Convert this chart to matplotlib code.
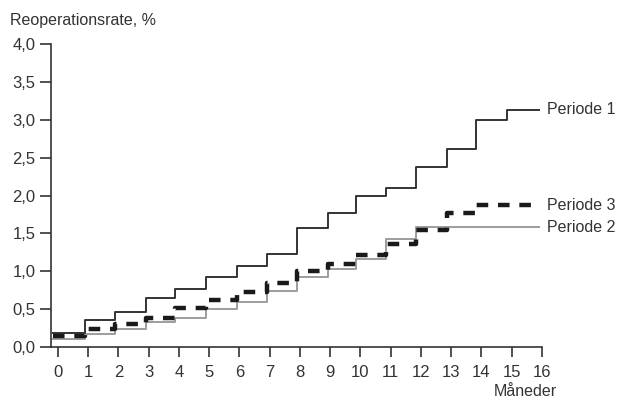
import matplotlib
matplotlib.use("Agg")
import matplotlib.pyplot as plt

plt.rcParams['font.family'] = ['Liberation Sans', 'DejaVu Sans']

# step edges (months) and rate (%) after each edge
steps_x = [-0.17, 0.9, 1.9, 2.9, 3.88, 4.9, 5.92, 6.9, 7.9, 8.92,
           9.85, 10.85, 11.85, 12.85, 13.82, 14.83, 15.9]
periode1 = [0.18, 0.35, 0.46, 0.65, 0.77, 0.92, 1.07, 1.23, 1.57, 1.77,
            2.0, 2.1, 2.38, 2.62, 3.0, 3.13, 3.13]
periode2 = [0.105, 0.175, 0.24, 0.33, 0.38, 0.5, 0.59, 0.74, 0.92, 1.03,
            1.16, 1.42, 1.58, 1.58, 1.58, 1.58, 1.58]
periode3 = [0.145, 0.24, 0.3, 0.385, 0.52, 0.62, 0.73, 0.84, 1.0, 1.09,
            1.21, 1.36, 1.54, 1.77, 1.87, 1.87, 1.87]
labels = ['Periode 1', 'Periode 3', 'Periode 2']
label_y = [3.13, 1.87, 1.58]

yticks = [0, 0.5, 1.0, 1.5, 2.0, 2.5, 3.0, 3.5, 4.0]
ytick_labels = ['0,0', '0,5', '1,0', '1,5', '2,0', '2,5', '3,0', '3,5', '4,0']
xticks = list(range(0, 17))

txt = '#333333'
fig = plt.figure(figsize=(6.18, 4.0), dpi=100)
ax = fig.add_axes([51 / 618, 1 - 347 / 400, 491 / 618, 303 / 400])

ax.step(steps_x, periode2, where='post', color='#9a9ea3', lw=1.4)
ax.step(steps_x, periode1, where='post', color='#333333', lw=1.4)
ax.step(steps_x, periode3, where='post', color='#1a1a1a', lw=3.2,
        dashes=(2.6, 2.2))

ax.set_xlim(-0.23, 16)
ax.set_ylim(0, 4)
ax.set_xticks(xticks)
ax.set_xticklabels([str(t) for t in xticks])
ax.set_yticks(yticks)
ax.set_yticklabels(ytick_labels)

for s in ['top', 'right']:
    ax.spines[s].set_visible(False)
for s in ['left', 'bottom']:
    ax.spines[s].set_color('#333333')
    ax.spines[s].set_linewidth(1.2)

ax.tick_params(axis='x', direction='out', length=7.5, width=1.2,
               color='#333333', pad=5.5, labelsize=12, labelcolor=txt)
ax.tick_params(axis='y', direction='out', length=8, width=1.2,
               color='#333333', pad=3, labelsize=12, labelcolor=txt)

for lab, yv in zip(labels, label_y):
    ax.text(16.15, yv, lab, fontsize=11.5, color=txt, va='center',
            ha='left', clip_on=False)

fig.text(10 / 618, 1 - 20 / 400, 'Reoperationsrate, %', fontsize=11.5,
         color=txt, va='center', ha='left')
fig.text(525 / 618, 1 - 392 / 400, 'Måneder', fontsize=11.5,
         color=txt, va='center', ha='center')

fig.savefig('out.png', dpi=100)
